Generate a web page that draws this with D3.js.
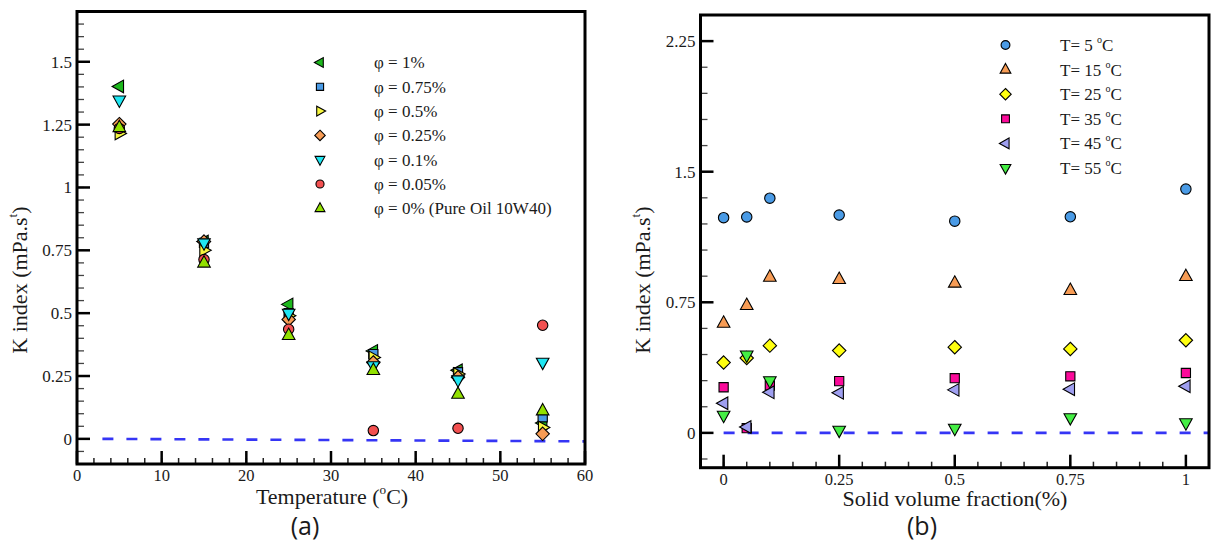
<!DOCTYPE html>
<html><head><meta charset="utf-8">
<script src="https://cdn.jsdelivr.net/npm/d3@7"></script>
<style>
body{margin:0;background:#fff;}
</style></head>
<body><svg id="c" width="1211" height="543"></svg>
<script>
// ---------- DATA: panel (a) ----------
const tempsA = [5, 15, 25, 35, 45, 55];
const seriesNamesA = ["φ = 1%", "φ = 0.75%", "φ = 0.5%", "φ = 0.25%", "φ = 0.1%", "φ = 0.05%", "φ = 0% (Pure Oil 10W40)"];
const phi1   = [1.402, 0.785, 0.535, 0.350, 0.273, 0.063];
const phi075 = [1.240, 0.780, 0.500, 0.337, 0.265, 0.086];
const phi05  = [1.215, 0.750, 0.490, 0.324, 0.258, 0.045];
const phi025 = [1.252, 0.785, 0.475, 0.304, 0.245, 0.020];
const phi01  = [1.347, 0.779, 0.499, 0.290, 0.234, 0.304];
const phi005 = [1.235, 0.713, 0.436, 0.033, 0.042, 0.452];
const phi0   = [1.239, 0.700, 0.412, 0.273, 0.178, 0.112];
const refLineA = [[3, 0], [60, -0.01]];
const xTicksA = [0, 10, 20, 30, 40, 50, 60];
const yTicksA = [0, 0.25, 0.5, 0.75, 1, 1.25, 1.5];
const yTickLabelsA = ["0", "0.25", "0.5", "0.75", "1", "1.25", "1.5"];

// ---------- DATA: panel (b) ----------
const fractionsB = [0, 0.05, 0.1, 0.25, 0.5, 0.75, 1];
const seriesNamesB = ["5", "15", "25", "35", "45", "55"];
const T5  = [1.236, 1.240, 1.348, 1.251, 1.216, 1.241, 1.400];
const T15 = [0.631, 0.733, 0.895, 0.882, 0.861, 0.819, 0.899];
const T25 = [0.404, 0.430, 0.501, 0.473, 0.492, 0.482, 0.532];
const T35 = [0.262, 0.027, 0.272, 0.297, 0.314, 0.325, 0.344];
const T45 = [0.170, 0.034, 0.233, 0.230, 0.247, 0.251, 0.268];
const T55 = [0.100, 0.446, 0.298, 0.014, 0.025, 0.086, 0.057];
const refLineB = [[0, 0], [1.05, 0]];
const xTicksB = [0, 0.25, 0.5, 0.75, 1];
const xTickLabelsB = ["0", "0.25", "0.5", "0.75", "1"];
const yTicksB = [0, 0.75, 1.5, 2.25];
const yTickLabelsB = ["0", "0.75", "1.5", "2.25"];

const SERIF = "'Liberation Serif', 'Times New Roman', serif";

// ---------- shapes ----------
function shapePath(type, k) {
  k = k || 1;
  const poly = (pts) => "M" + pts.map(p => (p[0]*k).toFixed(2) + "," + (p[1]*k).toFixed(2)).join("L") + "Z";
  switch (type) {
    case "circle": { const r = 5.2*k; return `M${r},0A${r},${r} 0 1,1 ${-r},0A${r},${r} 0 1,1 ${r},0Z`; }
    case "square": return poly([[-4.6,-4.6],[4.6,-4.6],[4.6,4.6],[-4.6,4.6]]);
    case "diamond": return poly([[0,-6.7],[6.7,0],[0,6.7],[-6.7,0]]);
    case "up": return poly([[0,-7.2],[6.3,4.2],[-6.3,4.2]]);
    case "down": return poly([[0,7.2],[6.3,-4.2],[-6.3,-4.2]]);
    case "left": return poly([[-7.2,0],[4.2,-6.3],[4.2,6.3]]);
    case "right": return poly([[7.2,0],[-4.2,-6.3],[-4.2,6.3]]);
  }
}

const svg = d3.select("#c");

function supLabel(g, x, y, parts, rotate, size) {
  const t = g.append("text").attr("text-anchor", "middle").attr("font-size", size)
    .style("font-family", SERIF).attr("fill", "#1a1a1a")
    .attr("transform", `translate(${x},${y})` + (rotate ? " rotate(-90)" : ""));
  parts.forEach(p => {
    const s = t.append("tspan").text(p.t);
    if (p.sup) s.attr("font-size", size*0.6).attr("dy", -size*0.45);
    if (p.down) s.attr("dy", size*0.45);
  });
  return t;
}

function panel(cfg) {
  const g = svg.append("g");
  const x = d3.scaleLinear().domain(cfg.xDom).range([cfg.left, cfg.right]);
  const y = d3.scaleLinear().domain(cfg.yDom).range([cfg.bottom, cfg.top]);

  const yMin = d3.range(cfg.yMinor[0], cfg.yMinor[1] + 1e-9, cfg.yMinor[2]);
  g.selectAll(".ymin").data(yMin).join("line")
    .attr("x1", cfg.left).attr("x2", cfg.left + 7)
    .attr("y1", d => y(d)).attr("y2", d => y(d)).attr("stroke", "#444").attr("stroke-width", 1.3);
  g.selectAll(".ymaj").data(cfg.yTicks).join("line")
    .attr("x1", cfg.left).attr("x2", cfg.left + 13)
    .attr("y1", d => y(d)).attr("y2", d => y(d)).attr("stroke", "#000").attr("stroke-width", 2.5);
  g.selectAll(".ylab").data(cfg.yTicks).join("text")
    .attr("x", cfg.left - 5).attr("y", d => y(d)).attr("dy", "0.35em")
    .style("font-family", SERIF).attr("fill", "#1a1a1a")
    .attr("text-anchor", "end").attr("font-size", 17).text((d, i) => cfg.yLabels[i]);

  const xMin = d3.range(cfg.xMinor[0], cfg.xMinor[1] + 1e-9, cfg.xMinor[2]);
  g.selectAll(".xmin").data(xMin).join("line")
    .attr("x1", d => x(d)).attr("x2", d => x(d))
    .attr("y1", cfg.bottom).attr("y2", cfg.bottom - 6).attr("stroke", "#222").attr("stroke-width", 1.5);
  g.selectAll(".xmaj").data(cfg.xTicks).join("line")
    .attr("x1", d => x(d)).attr("x2", d => x(d))
    .attr("y1", cfg.bottom).attr("y2", cfg.bottom - 13).attr("stroke", "#000").attr("stroke-width", 2.5);
  g.selectAll(".xlab").data(cfg.xTicks).join("text")
    .attr("x", d => x(d)).attr("y", cfg.bottom + 17)
    .style("font-family", SERIF).attr("fill", "#1a1a1a")
    .attr("text-anchor", "middle").attr("font-size", 16.5).text((d, i) => cfg.xLabels[i]);

  g.append("path").datum(cfg.refLine)
    .attr("d", d3.line().x(d => x(d[0])).y(d => y(d[1])))
    .attr("fill", "none").attr("stroke", "#3535f5").attr("stroke-width", 2.6)
    .attr("stroke-dasharray", "11,13");

  g.append("rect").attr("x", cfg.left).attr("y", cfg.top)
    .attr("width", cfg.right - cfg.left).attr("height", cfg.bottom - cfg.top)
    .attr("fill", "none").attr("stroke", "#000").attr("stroke-width", 3);

  cfg.series.forEach(s => {
    g.append("g").selectAll("path").data(s.values).join("path")
      .attr("transform", (d, i) => `translate(${x(cfg.xs[i])},${y(d)})`)
      .attr("d", shapePath(s.shape))
      .attr("fill", s.color).attr("stroke", "#000").attr("stroke-width", 1.1);
  });

  cfg.series.forEach((s, i) => {
    const ly = cfg.legY + i * cfg.legStep;
    g.append("path").attr("transform", `translate(${cfg.legSymX},${ly})`)
      .attr("d", shapePath(s.shape, cfg.legScale))
      .attr("fill", s.color).attr("stroke", "#000").attr("stroke-width", 1.1);
    const t = g.append("text").attr("x", cfg.legTextX).attr("y", ly).attr("dy", "0.35em")
      .style("font-family", SERIF).attr("fill", "#1a1a1a").attr("font-size", 17);
    s.label.forEach(p => {
      const sp = t.append("tspan").text(p.t);
      if (p.sup) sp.attr("font-size", 10).attr("dy", -8);
      if (p.down) sp.attr("dy", 8);
    });
  });
  return g;
}

const colA = ["#1db81d", "#4a9be6", "#f6f63e", "#f79c55", "#1fe6f2", "#f25050", "#92e000"];
const shpA = ["left", "square", "right", "diamond", "down", "circle", "up"];
const valsA = [phi1, phi075, phi05, phi025, phi01, phi005, phi0];

panel({
  left: 77, right: 585, top: 11.5, bottom: 464,
  xDom: [0, 60], yDom: [-0.1, 1.7],
  xTicks: xTicksA, xLabels: xTicksA.map(String), xMinor: [0, 60, 2],
  yTicks: yTicksA, yLabels: yTickLabelsA, yMinor: [-0.05, 1.65, 0.05],
  refLine: refLineA, xs: tempsA,
  series: valsA.map((v, i) => ({ values: v, color: colA[i], shape: shpA[i], label: [{ t: seriesNamesA[i] }] })),
  legSymX: 320, legTextX: 374, legY: 62.5, legStep: 24.3, legScale: 0.78
});

const colB = ["#4a9be6", "#f79c55", "#ffff10", "#fb0a9a", "#9f9ff0", "#44ee44"];
const shpB = ["circle", "up", "diamond", "square", "left", "down"];
const valsB = [T5, T15, T25, T35, T45, T55];

panel({
  left: 700.5, right: 1209, top: 15, bottom: 467.7,
  xDom: [-0.05, 1.05], yDom: [-0.2, 2.4],
  xTicks: xTicksB, xLabels: xTickLabelsB, xMinor: [0, 1.05, 0.05],
  yTicks: yTicksB, yLabels: yTickLabelsB, yMinor: [-0.15, 2.4, 0.15],
  refLine: refLineB, xs: fractionsB,
  series: valsB.map((v, i) => ({ values: v, color: colB[i], shape: shpB[i],
    label: [{ t: "T= " + seriesNamesB[i] + " " }, { t: "o", sup: true }, { t: "C", down: true }] })),
  legSymX: 1005.5, legTextX: 1060, legY: 45, legStep: 24.6, legScale: 0.85
});

supLabel(svg, 332, 504, [{ t: "Temperature (" }, { t: "o", sup: true }, { t: "C)", down: true }], false, 22);
supLabel(svg, 27, 280, [{ t: "K index (mPa.s" }, { t: "t", sup: true }, { t: ")", down: true }], true, 22);
supLabel(svg, 955, 506, [{ t: "Solid volume fraction(%)" }], false, 22);
supLabel(svg, 650, 280, [{ t: "K index (mPa.s" }, { t: "t", sup: true }, { t: ")", down: true }], true, 22);

svg.append("text").attr("x", 305).attr("y", 535).attr("text-anchor", "middle").attr("fill", "#1a1a1a")
  .style("font-family", "'Open Sans','Noto Sans',sans-serif").attr("font-size", 25).text("(a)");
svg.append("text").attr("x", 922).attr("y", 535).attr("text-anchor", "middle").attr("fill", "#1a1a1a")
  .style("font-family", "'Open Sans','Noto Sans',sans-serif").attr("font-size", 25).text("(b)");
</script></body></html>
